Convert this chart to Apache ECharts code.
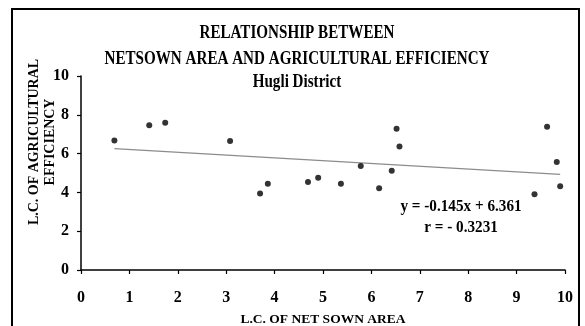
<!DOCTYPE html>
<html>
<head>
<meta charset="utf-8">
<script src="https://cdn.jsdelivr.net/npm/echarts@6/dist/echarts.min.js"></script>
<style>
html,body{margin:0;padding:0;background:#fff;}
#main{width:585px;height:326px;}
</style>
</head>
<body>
<div id="main"></div>
<script>
var titleLines = ['RELATIONSHIP BETWEEN', 'NETSOWN AREA AND AGRICULTURAL EFFICIENCY', 'Hugli District'];
var xName = 'L.C. OF NET SOWN AREA';
var yNameLines = ['L.C. OF AGRICULTURAL', 'EFFICIENCY'];
var netSownLC = [0.69, 1.41, 1.74, 3.08, 3.70, 3.86, 4.69, 4.90, 5.37, 5.78, 6.16, 6.42, 6.52, 6.58, 9.37, 9.63, 9.83, 9.90];
var agriEffLC = [6.68, 7.46, 7.59, 6.65, 3.94, 4.44, 4.54, 4.76, 4.44, 5.36, 4.22, 5.11, 7.28, 6.36, 3.91, 7.39, 5.57, 4.32];
var slope = -0.145;
var intercept = 6.361;
var rValue = '- 0.3231';

var pts = netSownLC.map(function (x, i) { return [x, agriEffLC[i]]; });
var xMin = Math.min.apply(null, netSownLC), xMax = Math.max.apply(null, netSownLC);
var trend = [[xMin, slope * xMin + intercept], [xMax, slope * xMax + intercept]];

var serif = '"Liberation Serif", "DejaVu Serif", serif';
function txt(t, x, y, size, sx, rot) {
  return {type: 'text', x: x, y: y, rotation: rot || 0, scaleX: sx || 1,
    style: {text: t, fontFamily: serif, fontWeight: 'bold', fontSize: size, fill: '#000',
      textAlign: 'center', textVerticalAlign: 'middle'}};
}
var chart = echarts.init(document.getElementById('main'), null, {renderer: 'canvas'});
chart.setOption({
  animation: false,
  backgroundColor: '#fff',
  grid: {left: 81, right: 20, top: 76, bottom: 56, containLabel: false, outerBoundsMode: 'none'},
  xAxis: {
    type: 'value', min: 0, max: 10, interval: 1,
    name: xName, nameLocation: 'middle', nameGap: 43,
    nameTextStyle: {fontFamily: serif, fontWeight: 'bold', fontSize: 13.5, color: '#000'},
    axisLine: {lineStyle: {color: '#000', width: 1.5}},
    axisTick: {show: true, length: 4, lineStyle: {color: '#000', width: 1.2}},
    axisLabel: {fontFamily: serif, fontWeight: 'bold', fontSize: 16, color: '#000', margin: 20},
    splitLine: {show: false}
  },
  yAxis: {
    type: 'value', min: 0, max: 10, interval: 2,
    axisLine: {show: true, lineStyle: {color: '#000', width: 1.5}},
    axisTick: {show: true, length: 4, lineStyle: {color: '#000', width: 1.2}},
    axisLabel: {fontFamily: serif, fontWeight: 'bold', fontSize: 16, color: '#000', margin: 12},
    splitLine: {show: false}
  },
  graphic: [
    {type: 'rect', shape: {x: 12, y: 9, width: 567, height: 330}, style: {fill: 'none', stroke: '#000', lineWidth: 2}, z: 100},
    txt(titleLines[0], 297, 33, 18, 0.84),
    txt(titleLines[1], 297, 59, 18, 0.84),
    txt(titleLines[2], 297, 82, 18, 0.84),
    txt(yNameLines[0], 34, 142, 15, 0.93, Math.PI / 2),
    txt(yNameLines[1], 50, 142, 15, 0.93, Math.PI / 2),
    txt('y = ' + slope + 'x + ' + intercept, 461, 207, 16, 0.95),
    txt('r = ' + rValue, 461, 228, 16, 0.95)
  ],
  series: [
    {type: 'line', data: trend, symbol: 'none', lineStyle: {color: '#8c8c8c', width: 1.3}, z: 1},
    {type: 'scatter', data: pts, symbol: 'circle', symbolSize: 6, itemStyle: {color: '#000'}, z: 2}
  ]
});
</script>
</body>
</html>
